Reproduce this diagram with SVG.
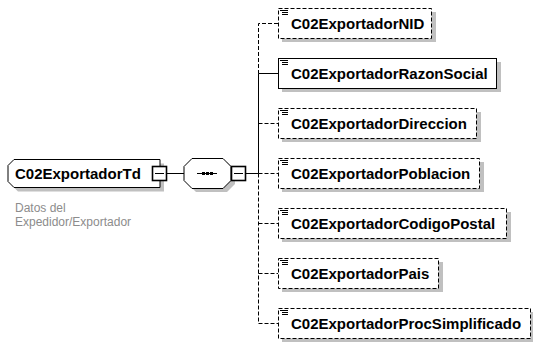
<svg xmlns="http://www.w3.org/2000/svg" width="533" height="345" viewBox="0 0 533 345">
<style>
.bg{fill:#ffffff}
.sh{fill:#c0c0c0;stroke:none}
.box{fill:#ffffff;stroke:#000000;stroke-width:1}
.mb{fill:#ffffff;stroke:#000000;stroke-width:1.6}
.opt{stroke-dasharray:4,2}
.ln{stroke:#000000;stroke-width:1;fill:none}
.dl{stroke:#000000;stroke-width:1;fill:none;stroke-dasharray:4,2}
.lbl{font-family:"Liberation Sans",Arial,sans-serif;font-weight:bold;font-size:15px;fill:#000000}
.desc{font-family:"Liberation Sans",Arial,sans-serif;font-size:12px;fill:#8c8c8c}
.ico{stroke:#000000;stroke-width:1}
</style>
<rect class="bg" x="0" y="0" width="533" height="345"/>
<g id="connectors">
  <line class="ln" x1="167" y1="173.5" x2="184" y2="173.5"/>
  <line class="ln" x1="246" y1="173.5" x2="258.5" y2="173.5"/>
  <polyline class="dl" points="278,23.5 258.5,23.5 258.5,73.5"/>
  <line class="ln" x1="258.5" y1="73.5" x2="258.5" y2="173.5"/>
  <polyline class="dl" points="258.5,173.5 258.5,323.5 278,323.5"/>
  <line class="ln" x1="258.5" y1="73.5" x2="278" y2="73.5"/>
  <line class="dl" x1="258.5" y1="123.5" x2="278" y2="123.5"/>
  <line class="dl" x1="258.5" y1="173.5" x2="278" y2="173.5"/>
  <line class="dl" x1="258.5" y1="223.5" x2="278" y2="223.5"/>
  <line class="dl" x1="258.5" y1="273.5" x2="278" y2="273.5"/>
</g>
<g id="C02ExportadorTd">
  <path class="sh" d="M18,163.5 L164,163.5 L164,191.5 L18,191.5 L12,185.5 L12,169.5 Z"/>
  <path class="box" d="M14,159.5 L160,159.5 L160,187.5 L14,187.5 L8,181.5 L8,165.5 Z"/>
  <text class="lbl" x="15" y="179">C02ExportadorTd</text>
  <rect class="mb" x="152.5" y="166.5" width="14" height="14"/>
  <line class="ln" x1="155" y1="173.5" x2="164" y2="173.5"/>
  <text class="desc" x="15" y="212">Datos del</text>
  <text class="desc" x="15" y="226">Expedidor/Exportador</text>
</g>
<g id="sequence">
  <path class="sh" d="M196,162 L227,162 L235,170 L235,184 L227,192 L196,192 L188,184 L188,170 Z"/>
  <path class="box" d="M192,158.5 L223,158.5 L231,166.5 L231,180.5 L223,188.5 L192,188.5 L184,180.5 L184,166.5 Z"/>
  <line class="ln" x1="197" y1="173.5" x2="217" y2="173.5"/>
  <rect x="202" y="172" width="3" height="3" fill="#000"/>
  <rect x="206" y="172" width="3" height="3" fill="#000"/>
  <rect x="210" y="172" width="3" height="3" fill="#000"/>
  <rect class="mb" x="231.5" y="166.5" width="14" height="14"/>
  <line class="ln" x1="234" y1="173.5" x2="243" y2="173.5"/>
</g>
<g id="C02ExportadorNID">
  <rect class="sh" x="282" y="12" width="154" height="30"/>
  <rect class="box opt" x="278.5" y="8.5" width="153" height="30"/>
  <g class="ico"><line x1="280" y1="10.5" x2="288" y2="10.5"/><line x1="282" y1="12.5" x2="288" y2="12.5"/><line x1="282" y1="14.5" x2="288" y2="14.5"/></g>
  <text class="lbl" x="291" y="28.5">C02ExportadorNID</text>
</g>
<g id="C02ExportadorRazonSocial">
  <rect class="sh" x="282" y="62" width="219" height="30"/>
  <rect class="box" x="278.5" y="58.5" width="218" height="30"/>
  <g class="ico"><line x1="280" y1="60.5" x2="288" y2="60.5"/><line x1="282" y1="62.5" x2="288" y2="62.5"/><line x1="282" y1="64.5" x2="288" y2="64.5"/></g>
  <text class="lbl" x="291" y="78.5">C02ExportadorRazonSocial</text>
</g>
<g id="C02ExportadorDireccion">
  <rect class="sh" x="282" y="112" width="199" height="30"/>
  <rect class="box opt" x="278.5" y="108.5" width="198" height="30"/>
  <g class="ico"><line x1="280" y1="110.5" x2="288" y2="110.5"/><line x1="282" y1="112.5" x2="288" y2="112.5"/><line x1="282" y1="114.5" x2="288" y2="114.5"/></g>
  <text class="lbl" x="291" y="128.5">C02ExportadorDireccion</text>
</g>
<g id="C02ExportadorPoblacion">
  <rect class="sh" x="282" y="162" width="202" height="30"/>
  <rect class="box opt" x="278.5" y="158.5" width="201" height="30"/>
  <g class="ico"><line x1="280" y1="160.5" x2="288" y2="160.5"/><line x1="282" y1="162.5" x2="288" y2="162.5"/><line x1="282" y1="164.5" x2="288" y2="164.5"/></g>
  <text class="lbl" x="291" y="178.5">C02ExportadorPoblacion</text>
</g>
<g id="C02ExportadorCodigoPostal">
  <rect class="sh" x="282" y="212" width="229" height="30"/>
  <rect class="box opt" x="278.5" y="208.5" width="228" height="30"/>
  <g class="ico"><line x1="280" y1="210.5" x2="288" y2="210.5"/><line x1="282" y1="212.5" x2="288" y2="212.5"/><line x1="282" y1="214.5" x2="288" y2="214.5"/></g>
  <text class="lbl" x="291" y="228.5">C02ExportadorCodigoPostal</text>
</g>
<g id="C02ExportadorPais">
  <rect class="sh" x="282" y="262" width="161" height="30"/>
  <rect class="box opt" x="278.5" y="258.5" width="160" height="30"/>
  <g class="ico"><line x1="280" y1="260.5" x2="288" y2="260.5"/><line x1="282" y1="262.5" x2="288" y2="262.5"/><line x1="282" y1="264.5" x2="288" y2="264.5"/></g>
  <text class="lbl" x="291" y="278.5">C02ExportadorPais</text>
</g>
<g id="C02ExportadorProcSimplificado">
  <rect class="sh" x="282" y="312" width="253" height="30"/>
  <rect class="box opt" x="278.5" y="308.5" width="252" height="30"/>
  <g class="ico"><line x1="280" y1="310.5" x2="288" y2="310.5"/><line x1="282" y1="312.5" x2="288" y2="312.5"/><line x1="282" y1="314.5" x2="288" y2="314.5"/></g>
  <text class="lbl" x="291" y="328.5">C02ExportadorProcSimplificado</text>
</g>
</svg>
